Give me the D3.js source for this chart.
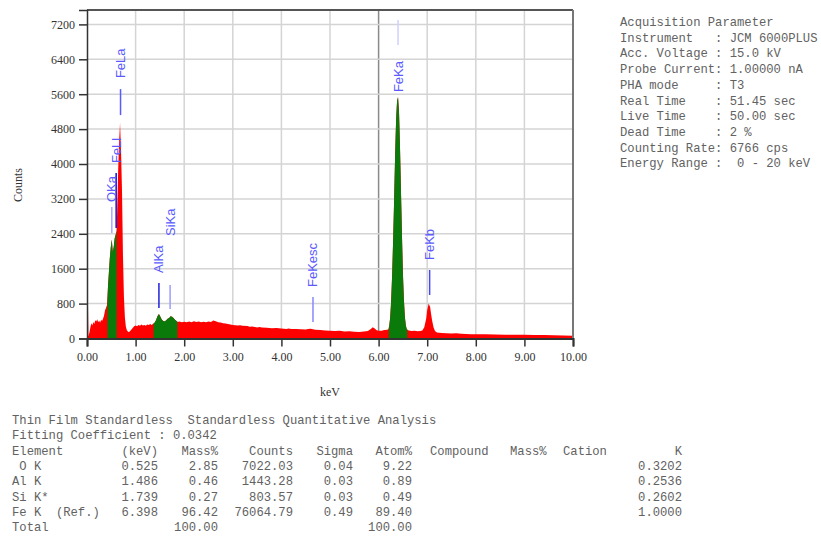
<!DOCTYPE html>
<html>
<head>
<meta charset="utf-8">
<script src="https://cdnjs.cloudflare.com/ajax/libs/d3/7.8.5/d3.min.js"></script>
<style>
  body { margin: 0; background: #fff; }
  svg { display: block; }
  .axis text { font-family: "Liberation Serif", serif; font-size: 12px; fill: #333; }
  .axis path, .axis line { stroke: #333; }
  .grid line { stroke: #d4d4d4; stroke-width: 1.5; }
  .marker-label { font-family: "Liberation Sans", Arial, sans-serif; font-size: 13px; fill: #5a5aff; }
  .mono { font-family: "Liberation Mono", monospace; font-size: 12.2px; fill: #626262; white-space: pre; }
</style>
</head>
<body>
<div id="chart"></div>
<script>
// spectrum
var energy = [0.00,0.02,0.03,0.05,0.07,0.09,0.11,0.13,0.15,0.17,0.19,0.21,0.23,0.25,0.27,0.29,0.31,0.33,0.35,0.37,
  0.39,0.41,0.43,0.45,0.47,0.49,0.51,0.53,0.55,0.57,0.59,0.61,0.62,0.64,0.66,0.68,0.70,0.72,0.74,0.76,
  0.78,0.80,0.82,0.85,0.88,0.91,0.94,0.97,1.00,1.03,1.06,1.09,1.12,1.15,1.18,1.21,1.24,1.27,1.30,1.33,
  1.36,1.39,1.42,1.45,1.48,1.51,1.54,1.57,1.60,1.63,1.66,1.69,1.72,1.75,1.78,1.81,1.84,1.87,1.90,1.95,
  2.00,2.05,2.10,2.15,2.20,2.25,2.30,2.35,2.40,2.45,2.50,2.55,2.60,2.65,2.70,2.75,2.80,2.85,2.90,2.95,
  3.00,3.10,3.15,3.20,3.30,3.35,3.40,3.50,3.55,3.60,3.70,3.75,3.80,3.90,4.00,4.10,4.15,4.20,4.30,4.40,
  4.50,4.55,4.60,4.65,4.70,4.80,4.90,5.00,5.10,5.20,5.30,5.40,5.50,5.60,5.70,5.78,5.84,5.88,5.92,5.96,
  6.00,6.06,6.12,6.18,6.20,6.22,6.24,6.26,6.28,6.30,6.32,6.34,6.36,6.38,6.40,6.42,6.44,6.46,6.48,6.50,
  6.52,6.54,6.56,6.58,6.62,6.68,6.74,6.80,6.86,6.90,6.94,6.98,7.00,7.03,7.06,7.08,7.10,7.13,7.16,7.20,
  7.30,7.40,7.50,7.60,7.70,7.80,7.90,8.00,8.20,8.40,8.60,8.80,9.00,9.20,9.40,9.60,9.80,10.00];
var counts = [780,770,60,140,260,350,300,380,330,420,390,440,370,410,360,430,400,450,520,640,
  700,760,1150,1500,1850,2100,2270,1980,2100,2300,2380,2470,2900,3800,4500,4940,4300,3400,1900,950,
  480,270,190,150,160,200,240,280,300,280,310,290,320,300,310,290,320,310,330,310,
  340,360,420,510,560,500,430,400,390,420,450,470,510,500,470,430,400,380,390,370,
  385,370,390,375,395,380,390,370,385,375,390,380,410,395,370,365,350,345,330,320,
  310,300,305,290,285,270,275,255,265,250,245,240,235,240,230,220,228,215,220,210,
  205,215,225,210,200,195,185,180,170,175,160,165,155,150,160,170,220,260,230,190,
  175,180,195,200,210,300,500,900,1500,2300,3200,4200,5000,5450,5530,5200,4400,3400,2400,1500,
  900,500,300,210,185,170,175,165,170,185,260,460,650,800,720,560,420,260,170,140,
  125,120,115,118,108,105,100,100,95,92,88,85,84,80,78,74,70,65];

// regions of interest (keV) shaded green
var roiStart = [0.42, 1.37, 6.21];
var roiEnd   = [0.61, 1.86, 6.59];

// peak markers: name, energy, line low/high and label bottom (counts)
var markerName = ["FeLa", "FeLl", "OKa", "AlKa", "SiKa", "FeKesc", "FeKa", "FeKb"];
var markerKeV  = [0.69, 0.60, 0.51, 1.48, 1.71, 4.65, 6.40, 7.05];
var markerLo   = [5121, 2532, 2418, 699, 676, 378, 6726, 997];
var markerHi   = [5717, 3792, 3013, 1272, 1226, 951, 7298, 1570];
var markerText = [5969, 4021, 3128, 1501, 2349, 1180, 5648, 1799];

var yTicks = [0, 800, 1600, 2400, 3200, 4000, 4800, 5600, 6400, 7200];
var xTicks = [0, 1, 2, 3, 4, 5, 6, 7, 8, 9, 10];

var acqLines = [
  "Acquisition Parameter",
  "Instrument   : JCM 6000PLUS",
  "Acc. Voltage : 15.0 kV",
  "Probe Current: 1.00000 nA",
  "PHA mode     : T3",
  "Real Time    : 51.45 sec",
  "Live Time    : 50.00 sec",
  "Dead Time    : 2 %",
  "Counting Rate: 6766 cps",
  "Energy Range :  0 - 20 keV"
];

var quantTitle = "Thin Film Standardless  Standardless Quantitative Analysis";
var quantFit = "Fitting Coefficient : 0.0342";
var quantHeader = ["Element", "(keV)", "Mass%", "Counts", "Sigma", "Atom%", "Compound", "Mass%", "Cation", "K"];
var quantElement = [" O K", "Al K", "Si K*", "Fe K  (Ref.)", "Total"];
var quantKeV    = ["0.525", "1.486", "1.739", "6.398", ""];
var quantMass   = ["2.85", "0.46", "0.27", "96.42", "100.00"];
var quantCounts = ["7022.03", "1443.28", "803.57", "76064.79", ""];
var quantSigma  = ["0.04", "0.03", "0.03", "0.49", ""];
var quantAtom   = ["9.22", "0.89", "0.49", "89.40", "100.00"];
var quantK      = ["0.3202", "0.2536", "0.2602", "1.0000", ""];

var markerStroke = {
  FeLa: "#5a5aff", FeLl: "#1010d8", OKa: "#a8a8ff", AlKa: "#2020dd",
  SiKa: "#9c9cff", FeKesc: "#8888ff", FeKa: "#d0d0ff", FeKb: "#4848f0"
};

var W = 821, H = 536;
var margins = { top: 10, left: 87 };
var chartWidth = 486, chartHeight = 328.5;

var svg = d3.select("#chart").append("svg").attr("width", W).attr("height", H);

var xScale = d3.scaleLinear().domain([0, 10]).range([0, chartWidth]);
var yScale = d3.scaleLinear().domain([0, 7530]).range([chartHeight, 0]);

var chart = svg.append("g")
  .attr("transform", `translate(${margins.left},${margins.top})`);

// grid
chart.append("g").attr("class", "grid")
  .selectAll("line.v").data(xTicks.slice(1, -1)).enter().append("line")
  .attr("x1", d => xScale(d)).attr("x2", d => xScale(d))
  .attr("y1", 0).attr("y2", chartHeight)
  .style("stroke", d => d === 6 ? "#8a8a8a" : null);

chart.append("g").attr("class", "grid")
  .selectAll("line.h").data(yTicks.slice(1)).enter().append("line")
  .attr("x1", 0).attr("x2", chartWidth)
  .attr("y1", d => yScale(d)).attr("y2", d => yScale(d));

// spectrum
var data = energy.map((e, i) => ({ e: e, c: counts[i] }));
var area = d3.area()
  .x(d => xScale(d.e))
  .y0(yScale(0))
  .y1(d => yScale(d.c));

chart.append("path").datum(data).attr("d", area).attr("fill", "#ff0000");

var defs = svg.append("defs");
roiStart.forEach(function(s, i) {
  defs.append("clipPath").attr("id", "roi" + i)
    .append("rect")
    .attr("x", xScale(s)).attr("y", 0)
    .attr("width", xScale(roiEnd[i]) - xScale(s))
    .attr("height", chartHeight);
  chart.append("path").datum(data).attr("d", area)
    .attr("fill", "#0a7a0a")
    .attr("clip-path", "url(#roi" + i + ")");
});

// peak markers
markerName.forEach(function(name, i) {
  var x = xScale(markerKeV[i]);
  chart.append("line")
    .attr("x1", x).attr("x2", x)
    .attr("y1", yScale(markerLo[i])).attr("y2", yScale(markerHi[i]))
    .attr("stroke", markerStroke[name])
    .attr("stroke-width", 1.5);
  chart.append("text")
    .attr("class", "marker-label")
    .attr("transform", `translate(${x + 4.5},${yScale(markerText[i])}) rotate(-90)`)
    .text(name);
});

// frame
chart.append("line").attr("x1", 0).attr("x2", chartWidth).attr("y1", 0).attr("y2", 0)
  .attr("stroke", "#555").attr("stroke-width", 2);
chart.append("line").attr("x1", chartWidth).attr("x2", chartWidth).attr("y1", 0).attr("y2", chartHeight)
  .attr("stroke", "#777").attr("stroke-width", 2);

// axes
var xAxis = d3.axisBottom(xScale).tickValues(xTicks).tickSize(8).tickPadding(6)
  .tickFormat(d => d.toFixed(2));
var yAxis = d3.axisLeft(yScale).tickValues(yTicks).tickSize(8).tickPadding(4)
  .tickFormat(d => d);

chart.append("g").attr("class", "x axis")
  .attr("transform", `translate(0,${chartHeight})`)
  .call(xAxis)
  .call(g => g.select(".domain").attr("stroke-width", 2))
  .call(g => g.selectAll(".tick line").attr("stroke-width", 1.5));

chart.append("g").attr("class", "y axis")
  .call(yAxis)
  .call(g => g.select(".domain").attr("stroke-width", 1.5))
  .call(g => g.selectAll(".tick line").attr("stroke-width", 1.5));

// axis titles
svg.append("text")
  .attr("transform", "translate(22,185) rotate(-90)")
  .attr("text-anchor", "middle")
  .style("font-family", "Liberation Serif, serif").style("font-size", "12px").style("fill", "#333")
  .text("Counts");
svg.append("text")
  .attr("x", margins.left + xScale(5)).attr("y", 396)
  .attr("text-anchor", "middle")
  .style("font-family", "Liberation Serif, serif").style("font-size", "12px").style("fill", "#333")
  .text("keV");

// acquisition parameters
svg.append("g").selectAll("text").data(acqLines).enter().append("text")
  .attr("class", "mono")
  .attr("x", 620)
  .attr("y", (d, i) => 26 + i * 15.7)
  .text(d => d);

// quantitative table
var table = svg.append("g");
var rowY = function(i) { return 424 + i * 15.3; };
table.append("text").attr("class", "mono").attr("x", 12).attr("y", rowY(0)).text(quantTitle);
table.append("text").attr("class", "mono").attr("x", 12).attr("y", rowY(1)).text(quantFit);

// header: [x, anchor]
var headPos = [[12, "start"], [158, "end"], [218, "end"], [293, "end"], [353, "end"], [412, "end"],
  [430, "start"], [510, "start"], [563, "start"], [682, "end"]];
quantHeader.forEach(function(h, i) {
  table.append("text").attr("class", "mono")
    .attr("x", headPos[i][0]).attr("y", rowY(2))
    .attr("text-anchor", headPos[i][1]).text(h);
});

var cols = [[quantElement, 12, "start"], [quantKeV, 158, "end"], [quantMass, 218, "end"],
  [quantCounts, 293, "end"], [quantSigma, 353, "end"], [quantAtom, 412, "end"], [quantK, 682, "end"]];
cols.forEach(function(col) {
  col[0].forEach(function(v, r) {
    table.append("text").attr("class", "mono")
      .attr("x", col[1]).attr("y", rowY(3 + r))
      .attr("text-anchor", col[2]).text(v);
  });
});
</script>
</body>
</html>
